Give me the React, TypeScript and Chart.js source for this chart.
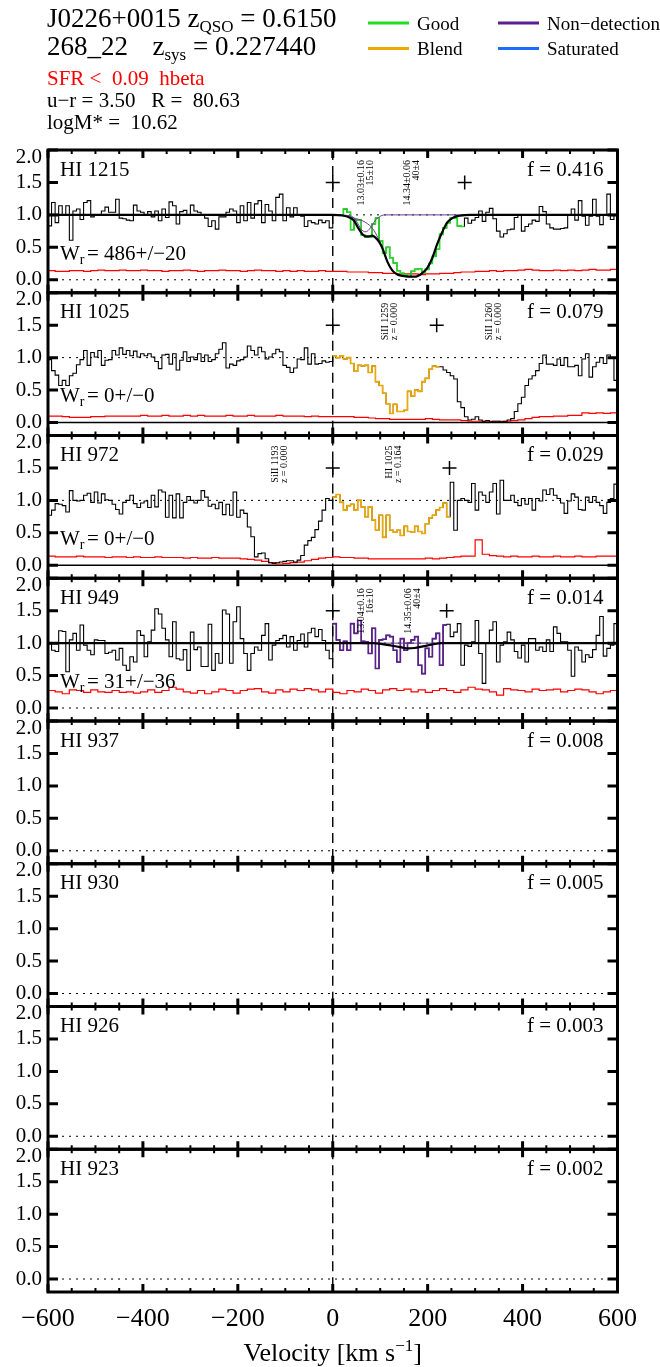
import React, { useEffect, useRef } from "react";
import { Chart, registerables } from "chart.js";

Chart.register(...registerables);

// ---------- velocity grid and axes ----------
const V_START = -600;
const V_END = 600;
const FLUX_BIN = 7.5; // km/s per flux bin
const ERR_BIN = 15; // km/s per error bin
const X_MAJOR = [-600, -400, -200, 0, 200, 400, 600];
const X_MINOR_STEP = 50;
const Y_TICKS = [0, 0.5, 1.0, 1.5, 2.0];
const Y_MIN = -0.2;
const Y_MAX = 2.0;

// ---------- header ----------
const QSO_NAME = "J0226+0015";
const Z_QSO = "0.6150";
const GALAXY_ID = "268_22";
const Z_SYS = "0.227440";
const SFR_TEXT = "SFR <  0.09  hbeta";
const COLOR_TEXT = "u\u2212r = 3.50   R =  80.63";
const MASS_TEXT = "logM* =  10.62";

const FLAG_NAMES = ["Good", "Blend", "Non\u2212detection", "Saturated"];
const FLAG_COLORS = ["#22dd22", "#eea800", "#5b1f91", "#1a6cff"];

// ---------- transitions ----------
const LINES = ["HI 1215", "HI 1025", "HI 972", "HI 949", "HI 937", "HI 930", "HI 926", "HI 923"];
const F_VALUES = ["0.416", "0.079", "0.029", "0.014", "0.008", "0.005", "0.003", "0.002"];

// normalised flux, 7.5 km/s bins from -600 to +600
const FLUX_1215 = [
  0.83, 1.19, 0.88, 1.14, 1.0, 1.14, 0.61, 1.06, 1.09, 0.93,
  1.19, 1.22, 0.97, 1.0, 1.0, 1.06, 1.12, 1.04, 1.04, 1.24,
  0.95, 0.94, 0.92, 0.91, 1.15, 1.06, 1.04, 1.0, 1.05, 0.97,
  1.06, 0.91, 1.09, 0.96, 1.2, 1.14, 0.86, 1.05, 1.07, 1.0,
  1.15, 1.06, 1.04, 1.0, 0.95, 0.82, 0.91, 0.78, 0.97, 0.97,
  1.04, 1.09, 1.06, 0.88, 1.14, 0.91, 1.19, 0.95, 1.17, 1.22,
  0.88, 1.16, 1.06, 0.91, 1.27, 1.32, 0.91, 1.11, 0.97, 1.11,
  1.0, 0.98, 0.82, 0.91, 0.88, 0.86, 0.92, 0.88, 0.91, 0.8,
  1.0, 1.0, 1.0, 1.09, 1.04, 0.77, 0.92, 0.92, 0.69, 0.66,
  0.66, 0.86, 0.95, 0.6, 0.41, 0.5, 0.34, 0.26, 0.14, 0.1,
  0.08, 0.05, 0.13, 0.16, 0.17, 0.11, 0.16, 0.25, 0.36, 0.47,
  0.7, 0.8, 0.88, 0.95, 0.95, 0.83, 0.82, 0.95, 0.87, 0.92,
  0.96, 1.06, 0.9, 1.04, 1.1, 0.94, 0.75, 0.66, 0.71, 0.77,
  0.78, 0.96, 1.0, 0.75, 0.82, 0.86, 0.92, 0.9, 1.13, 1.05,
  0.86, 0.8, 0.78, 0.78, 0.79, 0.8, 1.0, 1.09, 0.92, 1.22,
  0.98, 0.84, 0.98, 1.24, 0.98, 0.85, 1.0, 1.32, 0.93, 1.0,
];
const FLUX_1025 = [
  0.97, 0.8, 0.73, 0.57, 0.65, 0.57, 0.72, 0.76, 0.89, 0.97,
  1.11, 0.88, 1.08, 1.01, 1.11, 0.88, 0.96, 0.97, 1.11, 1.04,
  1.15, 1.05, 1.11, 1.03, 1.1, 1.01, 1.06, 1.03, 1.06, 1.01,
  0.94, 0.83, 1.04, 1.05, 0.9, 1.06, 0.81, 0.96, 1.09, 0.94,
  1.01, 0.97, 1.06, 0.94, 1.04, 0.94, 0.97, 1.06, 1.13, 1.23,
  0.84, 0.9, 0.88, 0.95, 0.97, 1.01, 1.18, 1.11, 1.04, 1.16,
  1.09, 0.98, 1.01, 1.06, 1.13, 1.09, 0.88, 0.85, 0.77, 0.84,
  0.98, 0.97, 1.15, 0.9, 1.06, 0.9, 0.91, 0.95, 0.93, 0.94,
  1.03, 1.0, 1.03, 0.98, 1.0, 0.91, 0.79, 0.88, 0.87, 0.88,
  0.77, 0.87, 0.63, 0.57, 0.45, 0.29, 0.14, 0.28, 0.17, 0.17,
  0.19, 0.48, 0.41, 0.5, 0.48, 0.63, 0.68, 0.82, 0.87, 0.86,
  0.86, 0.81, 0.77, 0.72, 0.67, 0.32, 0.23, 0.09, 0.04, 0.05,
  0.09, 0.04, 0.02, 0.03, 0.01, 0.02, 0.02, 0.01, 0.02, 0.04,
  0.06, 0.17, 0.29, 0.39, 0.57, 0.67, 0.72, 0.8, 0.91, 1.04,
  0.9, 0.9, 0.88, 0.98, 0.88, 1.0, 0.86, 0.86, 0.88, 0.72,
  0.98, 1.06, 0.7, 0.86, 0.93, 1.0, 0.91, 1.04, 0.99, 0.65,
];
const FLUX_972 = [
  0.77, 0.85, 0.95, 0.94, 0.92, 0.82, 1.15, 1.0, 0.99, 1.0,
  1.08, 1.11, 0.97, 1.13, 0.96, 1.1, 1.01, 1.0, 0.94, 0.86,
  0.79, 0.97, 1.0, 1.08, 0.95, 0.89, 0.96, 0.99, 0.89, 1.08,
  0.9, 1.16, 1.13, 0.74, 1.08, 0.73, 1.1, 0.73, 0.97, 1.06,
  1.0, 0.96, 1.0, 1.15, 1.05, 0.91, 0.94, 0.87, 0.97, 0.78,
  0.94, 0.77, 1.13, 0.74, 0.85, 0.8, 0.59, 0.44, 0.13, 0.18,
  0.19, 0.1, 0.04, 0.03, 0.04, 0.05, 0.06, 0.07, 0.07, 0.05,
  0.08, 0.15, 0.31, 0.38, 0.43, 0.55, 0.68, 0.85, 1.03, 1.0,
  1.05, 1.09, 0.97, 0.85, 0.92, 0.94, 0.85, 1.0, 0.9, 0.75,
  0.9, 0.7, 0.54, 0.77, 0.43, 0.77, 0.54, 0.51, 0.54, 0.46,
  0.6, 0.52, 0.51, 0.6, 0.52, 0.49, 0.64, 0.73, 0.77, 0.85,
  0.89, 0.96, 0.75, 1.28, 0.54, 1.0, 1.03, 1.0, 0.97, 1.26,
  0.85, 1.13, 1.08, 0.97, 1.13, 1.26, 0.79, 1.31, 1.0, 1.0,
  1.08, 0.97, 0.92, 1.03, 0.94, 1.03, 0.85, 1.03, 0.99, 1.16,
  1.09, 1.18, 1.08, 1.03, 0.96, 0.8, 0.99, 1.1, 1.05, 0.86,
  0.85, 1.05, 0.97, 1.06, 0.97, 0.92, 0.8, 0.97, 1.03, 1.25,
];
const FLUX_949 = [
  1.0, 0.89, 0.87, 1.19, 1.18, 0.56, 1.05, 1.15, 0.89, 1.28,
  0.97, 0.89, 0.82, 1.05, 1.04, 1.04, 0.84, 0.86, 0.89, 0.74,
  0.92, 0.66, 0.58, 0.79, 0.71, 1.19, 1.12, 0.79, 1.02, 1.2,
  1.53, 1.45, 1.23, 1.05, 0.79, 1.33, 0.76, 0.74, 0.9, 0.58,
  1.17, 0.9, 0.94, 0.64, 0.64, 1.29, 0.58, 0.84, 0.69, 1.51,
  1.45, 0.69, 1.33, 1.56, 1.07, 0.84, 0.58, 0.84, 0.94, 0.89,
  1.12, 1.3, 0.74, 0.97, 1.04, 1.07, 1.12, 0.94, 1.1, 0.89,
  1.04, 1.14, 0.94, 1.16, 1.23, 1.1, 1.21, 1.04, 0.89, 0.76,
  1.3, 1.05, 0.89, 1.03, 0.89, 1.3, 1.15, 1.35, 1.03, 1.02,
  0.84, 1.23, 0.61, 1.05, 1.06, 1.12, 1.1, 0.89, 0.71, 1.07,
  0.89, 1.0, 1.05, 1.1, 0.66, 0.53, 0.92, 0.79, 1.07, 1.15,
  0.66, 1.28, 1.29, 1.1, 1.17, 1.3, 0.66, 0.97, 0.95, 1.02,
  1.35, 0.84, 0.38, 1.0, 1.2, 1.33, 0.71, 0.97, 1.02, 1.17,
  1.05, 0.87, 0.77, 0.97, 0.71, 1.07, 1.07, 0.89, 0.94, 0.87,
  1.05, 0.87, 1.25, 1.15, 1.02, 1.02, 0.89, 0.49, 0.94, 0.89,
  0.71, 0.82, 0.78, 0.9, 1.12, 1.41, 0.8, 0.92, 0.97, 1.3,
];

// flux uncertainty, 15 km/s bins
const ERR_1215 = [
  0.14, 0.13, 0.13, 0.14, 0.14, 0.13, 0.14, 0.15, 0.14, 0.14,
  0.15, 0.14, 0.14, 0.15, 0.14, 0.14, 0.13, 0.14, 0.14, 0.15,
  0.14, 0.13, 0.14, 0.14, 0.15, 0.14, 0.14, 0.13, 0.14, 0.15,
  0.14, 0.14, 0.13, 0.14, 0.13, 0.14, 0.13, 0.13, 0.14, 0.13,
  0.13, 0.13, 0.12, 0.12, 0.12, 0.11, 0.11, 0.1, 0.1, 0.09,
  0.09, 0.09, 0.08, 0.09, 0.09, 0.1, 0.1, 0.11, 0.12, 0.12,
  0.13, 0.13, 0.14, 0.13, 0.14, 0.14, 0.15, 0.16, 0.15, 0.14,
  0.14, 0.15, 0.14, 0.15, 0.14, 0.15, 0.16, 0.15, 0.15, 0.16,
];
const ERR_1025 = [
  0.1, 0.1, 0.09, 0.08, 0.08, 0.08, 0.09, 0.09, 0.1, 0.1,
  0.1, 0.1, 0.1, 0.11, 0.1, 0.1, 0.11, 0.1, 0.1, 0.11,
  0.1, 0.11, 0.1, 0.1, 0.1, 0.11, 0.1, 0.1, 0.11, 0.1,
  0.1, 0.1, 0.11, 0.1, 0.1, 0.1, 0.09, 0.1, 0.09, 0.09,
  0.09, 0.09, 0.09, 0.08, 0.08, 0.07, 0.06, 0.06, 0.05, 0.05,
  0.05, 0.05, 0.05, 0.06, 0.05, 0.04, 0.04, 0.04, 0.03, 0.02,
  0.02, 0.02, 0.02, 0.02, 0.02, 0.03, 0.04, 0.06, 0.08, 0.09,
  0.09, 0.1, 0.1, 0.11, 0.11, 0.15, 0.14, 0.15, 0.14, 0.15,
];
const ERR_972 = [
  0.14, 0.13, 0.13, 0.13, 0.14, 0.13, 0.13, 0.13, 0.12, 0.13,
  0.13, 0.12, 0.13, 0.12, 0.12, 0.13, 0.12, 0.12, 0.12, 0.11,
  0.12, 0.11, 0.11, 0.12, 0.11, 0.11, 0.11, 0.1, 0.09, 0.08,
  0.06, 0.04, 0.02, 0.03, 0.04, 0.05, 0.07, 0.09, 0.11, 0.12,
  0.13, 0.12, 0.12, 0.11, 0.11, 0.1, 0.1, 0.1, 0.1, 0.1,
  0.1, 0.1, 0.1, 0.11, 0.1, 0.11, 0.12, 0.13, 0.14, 0.14,
  0.39, 0.17, 0.15, 0.14, 0.13, 0.14, 0.13, 0.13, 0.14, 0.13,
  0.13, 0.14, 0.13, 0.13, 0.14, 0.13, 0.13, 0.14, 0.14, 0.14,
];
const ERR_949 = [
  0.27, 0.25, 0.22, 0.28, 0.27, 0.24, 0.28, 0.25, 0.24, 0.27,
  0.24, 0.25, 0.23, 0.25, 0.28, 0.24, 0.27, 0.32, 0.29, 0.25,
  0.23, 0.27, 0.22, 0.25, 0.29, 0.27, 0.23, 0.27, 0.29, 0.3,
  0.25, 0.23, 0.28, 0.25, 0.29, 0.27, 0.3, 0.28, 0.25, 0.29,
  0.24, 0.22, 0.27, 0.25, 0.29, 0.27, 0.23, 0.28, 0.3, 0.27,
  0.29, 0.25, 0.28, 0.24, 0.27, 0.3, 0.27, 0.24, 0.28, 0.32,
  0.29, 0.28, 0.25, 0.2, 0.3, 0.28, 0.27, 0.25, 0.29, 0.27,
  0.28, 0.29, 0.25, 0.27, 0.29, 0.28, 0.25, 0.22, 0.25, 0.27,
];

// flagged velocity windows: [flag index, from, to]
const FLAG_1215: [number, number, number] = [0, 0, 277.5];
const FLAG_1025: [number, number, number] = [1, 0, 225];
const FLAG_972: [number, number, number] = [1, 0, 247.5];
const FLAG_949: [number, number, number] = [2, 0, 240];

// integration limits
const LIMITS_1215 = [0, 278];
const LIMITS_1025 = [0, 219];
const LIMITS_972 = [0, 246];
const LIMITS_949 = [0, 240];

// rest equivalent widths (mA)
const WR_1215 = "486+/\u221220";
const WR_1025 = "0+/\u22120";
const WR_972 = "0+/\u22120";
const WR_949 = "31+/\u221236";

// Voigt fit: total model and components
const MODEL_1215_V = [-600, 0, 20, 35, 45, 52, 58, 64, 70, 76, 83, 90, 98, 105, 115, 125, 136, 147, 160, 175, 188, 199, 210, 220, 231, 241, 252, 262, 277, 290, 600];
const MODEL_1215_F = [1, 1, 0.99, 0.96, 0.91, 0.82, 0.75, 0.69, 0.67, 0.67, 0.68, 0.65, 0.58, 0.48, 0.28, 0.15, 0.08, 0.06, 0.05, 0.05, 0.1, 0.18, 0.34, 0.55, 0.74, 0.88, 0.95, 0.98, 0.995, 1, 1];
const COMP1_1215_V = [0, 35, 45, 52, 58, 64, 70, 76, 83, 90, 98, 110, 290];
const COMP1_1215_F = [1, 0.99, 0.95, 0.88, 0.8, 0.75, 0.74, 0.77, 0.84, 0.92, 0.97, 1, 1];
const COMP2_1215_V = [0, 20, 40, 55, 70, 85, 95, 105, 115, 125, 136, 147, 160, 175, 188, 199, 210, 220, 231, 241, 252, 262, 277, 290];
const COMP2_1215_F = [1, 0.99, 0.96, 0.93, 0.88, 0.78, 0.65, 0.48, 0.28, 0.15, 0.08, 0.06, 0.05, 0.05, 0.1, 0.18, 0.34, 0.55, 0.74, 0.88, 0.95, 0.98, 0.995, 1];
const MODEL_949_V = [-600, 85, 105, 125, 145, 158, 172, 190, 210, 228, 600];
const MODEL_949_F = [1, 1, 0.985, 0.96, 0.935, 0.92, 0.925, 0.95, 0.98, 1, 1];
const COMP1_949_V = [0, 40, 55, 70, 85, 100, 290];
const COMP1_949_F = [1, 1, 0.995, 0.99, 0.995, 1, 1];
const COMP2_949_V = [0, 85, 105, 125, 145, 158, 172, 190, 210, 228, 290];
const COMP2_949_F = [1, 1, 0.985, 0.96, 0.935, 0.92, 0.925, 0.95, 0.98, 1, 1];

// vertical annotations (velocity, two text lines)
const NOTES_1215: [number, string, string][] = [[70, "13.03\u00b10.16", "15\u00b110"], [167, "14.34\u00b10.06", "40\u00b14"]];
const NOTES_1025: [number, string, string][] = [[121, "SiII 1259", "z = 0.000"], [340, "SiII 1260", "z = 0.000"]];
const NOTES_972: [number, string, string][] = [[-111, "SiII 1193", "z = 0.000"], [128, "HI 1025", "z = 0.164"]];
const NOTES_949: [number, string, string][] = [[70, "13.04\u00b10.16", "16\u00b110"], [168, "14.35\u00b10.06", "40\u00b14"]];

// ---------- page geometry ----------
const PAGE_W = 660;
const PAGE_H = 1367;
const PLOT_LEFT = 48;
const PLOT_RIGHT = 617.5;
const FIRST_TOP = 150;
const PANEL_H = 142.75;
const OVERLAP = 24;
const SERIF = '"Liberation Serif", "Times New Roman", serif';
const ERR_COLOR = "#ff0000";
const COMP_COLOR = "#6a3d8f";

type Panel = {
  name: string;
  f: string;
  flux?: number[];
  err?: number[];
  flag?: [number, number, number];
  model?: [number[], number[]];
  comps?: [number[], number[]][];
  limits?: number[];
  wr?: string;
  notes?: [number, string, string][];
  unitLine: "dotted" | "solid" | "none";
  zeroLine: "dotted" | "solid";
};

const PANELS: Panel[] = [
  { name: LINES[0], f: F_VALUES[0], flux: FLUX_1215, err: ERR_1215, flag: FLAG_1215, model: [MODEL_1215_V, MODEL_1215_F], comps: [[COMP1_1215_V, COMP1_1215_F], [COMP2_1215_V, COMP2_1215_F]], limits: LIMITS_1215, wr: WR_1215, notes: NOTES_1215, unitLine: "dotted", zeroLine: "dotted" },
  { name: LINES[1], f: F_VALUES[1], flux: FLUX_1025, err: ERR_1025, flag: FLAG_1025, limits: LIMITS_1025, wr: WR_1025, notes: NOTES_1025, unitLine: "dotted", zeroLine: "solid" },
  { name: LINES[2], f: F_VALUES[2], flux: FLUX_972, err: ERR_972, flag: FLAG_972, limits: LIMITS_972, wr: WR_972, notes: NOTES_972, unitLine: "dotted", zeroLine: "solid" },
  { name: LINES[3], f: F_VALUES[3], flux: FLUX_949, err: ERR_949, flag: FLAG_949, model: [MODEL_949_V, MODEL_949_F], comps: [[COMP1_949_V, COMP1_949_F], [COMP2_949_V, COMP2_949_F]], limits: LIMITS_949, wr: WR_949, notes: NOTES_949, unitLine: "dotted", zeroLine: "dotted" },
  { name: LINES[4], f: F_VALUES[4], unitLine: "none", zeroLine: "dotted" },
  { name: LINES[5], f: F_VALUES[5], unitLine: "none", zeroLine: "dotted" },
  { name: LINES[6], f: F_VALUES[6], unitLine: "none", zeroLine: "dotted" },
  { name: LINES[7], f: F_VALUES[7], unitLine: "none", zeroLine: "dotted" },
];

function geom(i: number) {
  const plotTop = FIRST_TOP + i * PANEL_H;
  const top = i === 0 ? 0 : Math.floor(plotTop) - OVERLAP;
  const h = i === PANELS.length - 1 ? PAGE_H - top : Math.ceil(plotTop + PANEL_H + OVERLAP) - top;
  const padTop = plotTop - top;
  return { top, h, padTop, padBottom: h - padTop - PANEL_H };
}

const font = (size: number) => `${size}px ${SERIF}`;

type Run = { t: string; size: number; dy?: number; dx?: number };
function drawRuns(ctx: CanvasRenderingContext2D, runs: Run[], x: number, y: number, align: "left" | "center" = "left") {
  ctx.textAlign = "left";
  ctx.textBaseline = "alphabetic";
  let total = 0;
  for (const r of runs) {
    ctx.font = font(r.size);
    total += ctx.measureText(r.t).width + (r.dx || 0);
  }
  let cx = align === "center" ? x - total / 2 : x;
  for (const r of runs) {
    ctx.font = font(r.size);
    cx += r.dx || 0;
    ctx.fillText(r.t, cx, y + (r.dy || 0));
    cx += ctx.measureText(r.t).width;
  }
}

function stepPoints(values: number[], start: number, bin: number, from = 0, to = values.length) {
  const pts: { x: number; y: number }[] = [];
  for (let k = from; k < to; k++) pts.push({ x: start + k * bin, y: values[k] });
  pts.push({ x: start + to * bin, y: values[to - 1] });
  return pts;
}

const curve = (v: number[], f: number[]) => v.map((x, k) => ({ x, y: f[k] }));

function buildDatasets(p: Panel) {
  const ds: any[] = [];
  const line = { pointRadius: 0, fill: false, tension: 0 };
  if (p.limits) {
    ds.push({
      data: p.limits.map((v) => ({ x: v, y: 1.5 })),
      showLine: false,
      pointStyle: "cross",
      pointRadius: 7,
      pointBorderWidth: 1.5,
      pointBorderColor: "#000",
      borderColor: "#000",
      order: 0,
    });
  }
  if (p.model) {
    ds.push({ ...line, data: curve(p.model[0], p.model[1]), borderColor: "#000", borderWidth: 2.2, cubicInterpolationMode: "monotone", order: 1 });
  }
  if (p.comps) {
    for (const c of p.comps) {
      ds.push({ ...line, data: curve(c[0], c[1]), borderColor: COMP_COLOR, borderWidth: 1, cubicInterpolationMode: "monotone", order: 2 });
    }
  }
  if (p.flux && p.flag) {
    const [kind, from, to] = p.flag;
    const k0 = Math.round((from - V_START) / FLUX_BIN);
    const k1 = Math.round((to - V_START) / FLUX_BIN);
    ds.push({ ...line, data: stepPoints(p.flux, V_START, FLUX_BIN, k0, k1), borderColor: FLAG_COLORS[kind], borderWidth: 1.6, stepped: "before", order: 3 });
  }
  if (p.flux) {
    ds.push({ ...line, data: stepPoints(p.flux, V_START, FLUX_BIN), borderColor: "#000", borderWidth: 1.1, stepped: "before", order: 4 });
  }
  if (p.err) {
    ds.push({ ...line, data: stepPoints(p.err, V_START, ERR_BIN), borderColor: ERR_COLOR, borderWidth: 1.2, stepped: "before", order: 5 });
  }
  return ds;
}

function makeDecor(p: Panel, idx: number, canvasTop: number) {
  const last = idx === PANELS.length - 1;
  return {
    id: "panelDecor" + idx,
    beforeDatasetsDraw(chart: any) {
      const { ctx, chartArea: a } = chart;
      const xs = chart.scales.x;
      const ys = chart.scales.y;
      ctx.save();
      ctx.strokeStyle = "#000";
      const ref = (val: number, style: string) => {
        if (style === "none") return;
        ctx.setLineDash(style === "dotted" ? [2, 5] : []);
        ctx.lineWidth = style === "dotted" ? 1 : 1.6;
        const py = ys.getPixelForValue(val);
        ctx.beginPath();
        ctx.moveTo(a.left, py);
        ctx.lineTo(a.right, py);
        ctx.stroke();
      };
      ref(1, p.unitLine);
      ref(0, p.zeroLine);
      ctx.setLineDash([10, 6]);
      ctx.lineWidth = 1.4;
      const px0 = xs.getPixelForValue(0);
      ctx.beginPath();
      ctx.moveTo(px0, a.top);
      ctx.lineTo(px0, a.bottom);
      ctx.stroke();
      ctx.restore();
    },
    afterDraw(chart: any) {
      const { ctx, chartArea: a } = chart;
      const xs = chart.scales.x;
      const ys = chart.scales.y;
      ctx.save();
      ctx.setLineDash([]);
      ctx.strokeStyle = "#000";
      ctx.fillStyle = "#000";

      // frame
      ctx.lineWidth = 3;
      ctx.strokeRect(a.left, a.top, a.right - a.left, a.bottom - a.top);

      // velocity ticks on top and bottom edges
      for (let v = V_START; v <= V_END; v += X_MINOR_STEP) {
        const px = xs.getPixelForValue(v);
        const major = X_MAJOR.includes(v);
        const len = major ? 8 : 4;
        ctx.lineWidth = major ? 3 : 2;
        ctx.beginPath();
        ctx.moveTo(px, a.bottom);
        ctx.lineTo(px, a.bottom - len);
        ctx.moveTo(px, a.top);
        ctx.lineTo(px, a.top + len);
        ctx.stroke();
      }
      // flux ticks on left and right edges
      ctx.lineWidth = 3;
      for (const t of Y_TICKS) {
        const py = ys.getPixelForValue(t);
        ctx.beginPath();
        ctx.moveTo(a.left, py);
        ctx.lineTo(a.left + 10, py);
        ctx.moveTo(a.right, py);
        ctx.lineTo(a.right - 10, py);
        ctx.stroke();
      }
      ctx.font = font(21);
      ctx.textAlign = "right";
      ctx.textBaseline = "middle";
      for (const t of Y_TICKS) {
        const py = ys.getPixelForValue(t) + (t === Y_MAX ? 7 : 0);
        ctx.fillText(t.toFixed(1), a.left - 6, py);
      }

      // transition name and oscillator strength
      ctx.textBaseline = "alphabetic";
      ctx.textAlign = "left";
      ctx.font = font(21);
      ctx.fillText(p.name, a.left + 12, a.top + 25.5);
      ctx.textAlign = "right";
      ctx.fillText("f = " + p.f, a.right - 14, a.top + 25.5);

      if (p.wr) {
        drawRuns(ctx, [{ t: "W", size: 21 }, { t: "r", size: 14, dy: 4 }, { t: "= " + p.wr, size: 21, dx: 2.5 }], a.left + 12, a.top + 109.5);
      }

      if (p.notes) {
        ctx.font = font(10);
        for (const [v, l1, l2] of p.notes) {
          ctx.save();
          ctx.translate(xs.getPixelForValue(v), a.top + 10);
          ctx.rotate(-Math.PI / 2);
          ctx.textAlign = "right";
          ctx.textBaseline = "middle";
          ctx.fillText(l1, 0, -4.5);
          ctx.fillText(l2, 0, 4.5);
          ctx.restore();
        }
      }

      if (idx === 0) {
        // header block
        drawRuns(ctx, [{ t: QSO_NAME + " z", size: 27 }, { t: "QSO", size: 17, dy: 5 }, { t: " = " + Z_QSO, size: 27 }], 47, 27);
        drawRuns(ctx, [{ t: GALAXY_ID, size: 27 }], 47, 55);
        drawRuns(ctx, [{ t: "z", size: 27 }, { t: "sys", size: 17, dy: 5 }, { t: " = " + Z_SYS, size: 27 }], 152.5, 55);
        ctx.fillStyle = "#ff0000";
        drawRuns(ctx, [{ t: SFR_TEXT, size: 21 }], 47, 85);
        ctx.fillStyle = "#000";
        drawRuns(ctx, [{ t: COLOR_TEXT, size: 21 }], 47, 107);
        drawRuns(ctx, [{ t: MASS_TEXT, size: 21 }], 47, 129);

        // flag legend
        const cols = [368, 498];
        const rows = [23, 48.5];
        FLAG_NAMES.forEach((name, k) => {
          const cx = cols[Math.floor(k / 2)];
          const cy = rows[k % 2];
          ctx.strokeStyle = FLAG_COLORS[k];
          ctx.lineWidth = 3;
          ctx.beginPath();
          ctx.moveTo(cx, cy);
          ctx.lineTo(cx + 41, cy);
          ctx.stroke();
          ctx.fillStyle = "#000";
          drawRuns(ctx, [{ t: name, size: 19 }], cx + 49, cy + 6.5);
        });
      }

      if (last) {
        ctx.fillStyle = "#000";
        ctx.font = font(26);
        ctx.textAlign = "center";
        ctx.textBaseline = "alphabetic";
        for (const v of X_MAJOR) {
          const label = v < 0 ? "\u2212" + Math.abs(v) : String(v);
          ctx.fillText(label, xs.getPixelForValue(v), 1326 - canvasTop);
        }
        drawRuns(
          ctx,
          [{ t: "Velocity [km s", size: 26 }, { t: "\u22121", size: 17, dy: -10 }, { t: "]", size: 26 }],
          xs.getPixelForValue(0),
          1361 - canvasTop,
          "center"
        );
      }
      ctx.restore();
    },
  };
}

export default function App() {
  const refs = useRef<(HTMLCanvasElement | null)[]>([]);

  useEffect(() => {
    const charts = PANELS.map((p, i) => {
      const g = geom(i);
      const canvas = refs.current[i] as HTMLCanvasElement;
      return new Chart(canvas, {
        type: "line",
        data: { datasets: buildDatasets(p) },
        options: {
          responsive: false,
          animation: false,
          events: [],
          layout: { padding: { left: PLOT_LEFT, right: PAGE_W - PLOT_RIGHT, top: g.padTop, bottom: g.padBottom } },
          scales: {
            x: { type: "linear", min: V_START, max: V_END, display: false },
            y: { type: "linear", min: Y_MIN, max: Y_MAX, display: false },
          },
          plugins: { legend: { display: false }, tooltip: { enabled: false } },
          elements: { point: { radius: 0 } },
        } as any,
        plugins: [makeDecor(p, i, g.top)],
      });
    });
    return () => charts.forEach((c) => c.destroy());
  }, []);

  return (
    <div style={{ position: "absolute", left: 0, top: 0, width: PAGE_W, height: PAGE_H, background: "#fff" }}>
      {PANELS.map((p, i) => {
        const g = geom(i);
        return (
          <canvas
            key={p.name}
            ref={(el) => {
              refs.current[i] = el;
            }}
            width={PAGE_W}
            height={g.h}
            style={{ position: "absolute", left: 0, top: g.top, width: PAGE_W, height: g.h }}
          />
        );
      })}
    </div>
  );
}
